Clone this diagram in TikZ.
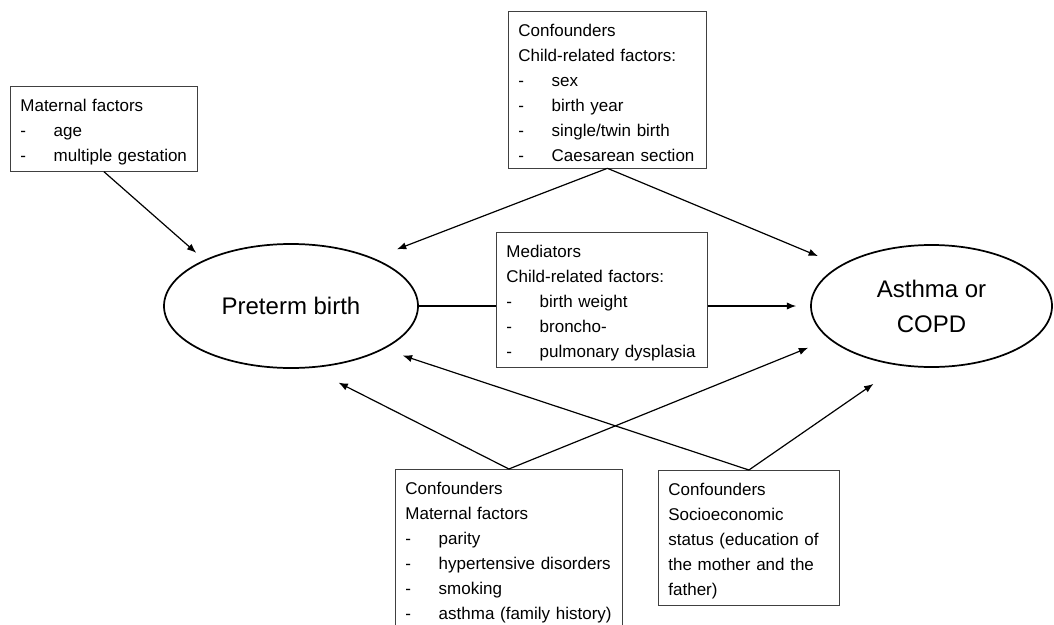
\documentclass[tikz,border=0pt]{standalone}
\usepackage{fontspec}
\setmainfont{Liberation Sans}
\usepackage{tikz}
\usetikzlibrary{shapes.geometric, arrows.meta}
\tikzstyle{outcome} = [ellipse, draw=black, line width=1.3pt, inner sep=0pt, align=center, font=\fontsize{18pt}{26.25pt}\selectfont]
\tikzstyle{factorbox} = [rectangle, draw=black!75, line width=0.6pt, anchor=north west, align=left, inner xsep=7.5pt, inner ysep=4.75pt, text height=14pt, font=\fontsize{12.75pt}{18.75pt}\selectfont]
\tikzstyle{arrow} = [line width=0.9pt,->,>={Latex[length=7pt,width=5.5pt]}]
\tikzstyle{link} = [line width=0.9pt]
\newcommand{\dashitem}[1]{\makebox[25pt][l]{-}#1}
\hyphenpenalty=10000
\exhyphenpenalty=10000

\begin{document}
\begin{tikzpicture}[x=0.75pt, y=-0.75pt]
  \useasboundingbox (0,0) rectangle (1054,625);

  % outcomes
  \node (preterm) [outcome, minimum width=190.5pt, minimum height=93pt] at (291,306) {Preterm birth};
  \node (asthma) [outcome, minimum width=180.75pt, minimum height=91.5pt] at (931.5,306) {Asthma or\\COPD};

  % factor boxes
  \node (maternal) [factorbox, text width=125.25pt] at (10,86)
    {Maternal factors\\\dashitem{age}\\\dashitem{multiple gestation}};
  \node (conftop) [factorbox, text width=133.5pt] at (508,11)
    {Confounders\\Child-related factors:\\\dashitem{sex}\\\dashitem{birth year}\\\dashitem{single/twin birth}\\\dashitem{Caesarean section}};
  \node (mediator) [factorbox, text width=143.25pt] at (496,232)
    {Mediators\\Child-related factors:\\\dashitem{birth weight}\\\dashitem{broncho-}\\\dashitem{pulmonary dysplasia}};
  \node (confmat) [factorbox, text width=155.25pt] at (395,469)
    {Confounders\\Maternal factors\\\dashitem{parity}\\\dashitem{hypertensive disorders}\\\dashitem{smoking}\\\dashitem{asthma (family history)}};
  \node (confses) [factorbox, text width=120.75pt] at (658,470)
    {Confounders\\Socioeconomic\\status (education of\\the mother and the\\father)};

  % connectors
  \draw[arrow, shorten >=8pt] (maternal.south) -- (preterm.152);
  \draw[arrow, shorten >=18.5pt] (conftop.south) -- (preterm.30);
  \draw[arrow, shorten >=18pt] (conftop.south) -- (asthma.156);
  \draw[link] (preterm.east) -- (preterm.east -| mediator.west);
  \draw[arrow, shorten >=10.5pt] (mediator.east |- asthma.west) -- (asthma.west);
  \draw[arrow, shorten >=24pt] (confmat.north) -- (preterm.287.6);
  \draw[arrow, shorten >=17pt] (confmat.north) -- (asthma.198.5);
  \draw[arrow, shorten >=15pt] (confses.north) -- (preterm.335.4);
  \draw[arrow, shorten >=24pt] (confses.north) -- (asthma.242.3);
\end{tikzpicture}
\end{document}
